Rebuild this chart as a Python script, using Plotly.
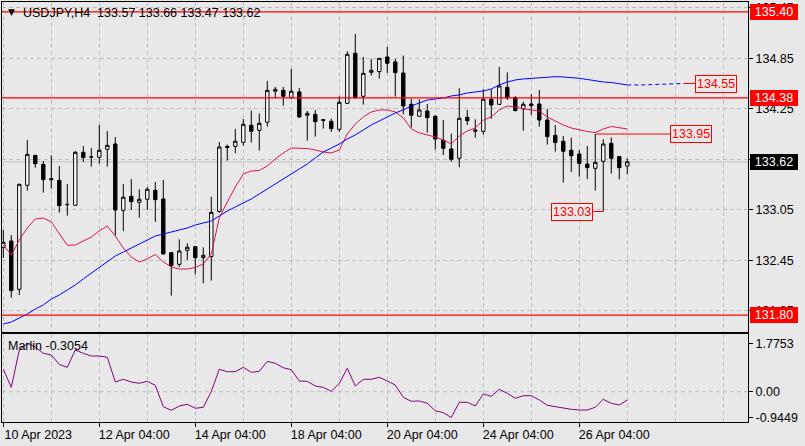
import plotly.graph_objects as go

# ---------------- data ----------------
symbol_title = "USDJPY,H4  133.57 133.66 133.47 133.62"
indicator_title = "Marlin -0.3054"

open_ = [132.605, 132.680, 132.106, 133.341, 133.697, 133.590, 133.420, 133.400, 133.115, 133.104,
         133.733, 133.680, 133.674, 133.769, 133.832, 133.044, 133.211, 133.139, 133.175, 133.282,
         133.179, 132.541, 132.403, 132.569, 132.613, 132.482, 132.494, 133.032, 133.804, 133.804,
         133.852, 134.054, 133.994, 134.090, 134.458, 134.469, 134.386, 134.450, 134.173, 134.184,
         134.121, 134.101, 134.006, 134.315, 134.909, 134.398, 134.683, 134.691, 134.865, 134.806,
         134.675, 134.303, 134.161, 134.224, 134.161, 133.876, 133.773, 133.662, 134.149, 133.998,
         133.982, 134.363, 134.303, 134.505, 134.382, 134.248, 134.307, 134.307, 134.117, 133.935,
         133.864, 133.757, 133.713, 133.594, 133.543, 133.626, 133.840, 133.682, 133.570]
high = [132.811, 132.750, 133.360, 133.880, 133.700, 133.630, 133.697, 133.571, 133.357, 133.749,
        133.808, 133.785, 134.058, 133.986, 133.915, 133.357, 133.416, 133.294, 133.321, 133.381,
        133.404, 132.550, 132.700, 132.652, 132.620, 132.605, 133.206, 133.856, 133.824, 134.010,
        134.129, 134.228, 134.196, 134.580, 134.509, 134.509, 134.723, 134.497, 134.224, 134.236,
        134.125, 134.133, 134.398, 134.933, 135.138, 134.865, 134.842, 134.850, 134.984, 134.842,
        134.881, 134.366, 134.362, 134.307, 134.173, 134.117, 133.955, 134.493, 134.236, 134.125,
        134.481, 134.481, 134.747, 134.683, 134.402, 134.335, 134.422, 134.473, 134.248, 134.058,
        133.927, 133.907, 133.761, 133.808, 133.950, 133.887, 133.911, 133.686, 133.660]
low = [132.482, 132.007, 132.039, 133.278, 133.551, 133.254, 133.302, 133.017, 132.981, 133.100,
       133.618, 133.563, 133.598, 133.563, 132.743, 132.799, 133.048, 132.957, 133.048, 132.906,
       132.520, 132.031, 132.371, 132.454, 132.284, 132.177, 132.209, 133.016, 133.634, 133.721,
       133.812, 133.848, 133.753, 134.038, 134.374, 134.287, 134.367, 134.141, 133.872, 133.919,
       134.014, 133.975, 133.975, 134.307, 134.370, 134.299, 134.644, 134.608, 134.675, 134.394,
       134.184, 134.026, 134.157, 133.967, 133.765, 133.701, 133.622, 133.555, 134.058, 133.907,
       133.943, 134.133, 134.295, 134.355, 134.220, 133.990, 134.176, 134.038, 133.824, 133.741,
       133.373, 133.500, 133.444, 133.416, 133.278, 133.030, 133.480, 133.412, 133.470]
close = [132.664, 132.090, 133.353, 133.709, 133.598, 133.408, 133.408, 133.100, 133.112, 133.733,
         133.670, 133.678, 133.757, 133.816, 133.048, 133.199, 133.147, 133.175, 133.294, 133.171,
         132.526, 132.387, 132.561, 132.605, 132.482, 132.510, 133.020, 133.796, 133.792, 133.864,
         134.066, 133.983, 134.077, 134.469, 134.481, 134.398, 134.458, 134.153, 134.196, 134.097,
         134.113, 134.014, 134.327, 134.897, 134.382, 134.671, 134.707, 134.849, 134.790, 134.679,
         134.283, 134.173, 134.236, 134.145, 133.891, 133.781, 133.650, 134.137, 134.109, 133.986,
         134.363, 134.295, 134.521, 134.382, 134.228, 134.303, 134.287, 134.117, 133.919, 133.848,
         133.745, 133.693, 133.602, 133.551, 133.614, 133.832, 133.662, 133.551, 133.620]

ma_red = [132.632, 132.514, 132.692, 132.834, 132.941, 132.953, 132.906, 132.767, 132.629, 132.632,
          132.680, 132.727, 132.799, 132.858, 132.739, 132.597, 132.490, 132.431, 132.466, 132.520,
          132.431, 132.371, 132.347, 132.347, 132.365, 132.407, 132.526, 132.953, 133.143, 133.321,
          133.476, 133.511, 133.517, 133.571, 133.654, 133.725, 133.784, 133.784, 133.778, 133.761,
          133.737, 133.725, 133.761, 133.951, 134.069, 134.152, 134.212, 134.236, 134.236, 134.212,
          134.141, 134.010, 133.963, 133.939, 133.915, 133.879, 133.832, 133.927, 133.986, 134.022,
          134.117, 134.152, 134.236, 134.283, 134.271, 134.248, 134.236, 134.224, 134.152, 134.105,
          134.058, 134.022, 133.998, 133.980, 133.968, 134.010, 134.040, 134.028, 134.010]
ma_blue = [131.694, 131.718, 131.765, 131.813, 131.872, 131.920, 131.991, 132.039, 132.098, 132.157,
           132.229, 132.300, 132.371, 132.442, 132.502, 132.549, 132.597, 132.644, 132.692, 132.739,
           132.763, 132.787, 132.811, 132.834, 132.870, 132.894, 132.917, 132.977, 133.036, 133.084,
           133.131, 133.179, 133.238, 133.297, 133.357, 133.416, 133.476, 133.535, 133.594, 133.666,
           133.737, 133.784, 133.832, 133.891, 133.939, 133.998, 134.058, 134.105, 134.152, 134.200,
           134.236, 134.283, 134.319, 134.354, 134.366, 134.378, 134.402, 134.414, 134.438, 134.449,
           134.461, 134.485, 134.533, 134.568, 134.592, 134.604, 134.610, 134.616, 134.628, 134.631,
           134.628, 134.622, 134.612, 134.598, 134.580, 134.568, 134.562, 134.544, 134.533]
blue_ext = [134.533, 134.530, 134.533, 134.537, 134.541, 134.545, 134.548, 134.550]

marlin = [0.822, 0.161, 1.530, 1.7753, 1.640, 1.409, 1.346, 0.998, 0.895, 1.530,
          1.409, 1.310, 1.310, 1.262, 0.356, 0.455, 0.356, 0.308, 0.382, 0.235,
          -0.550, -0.682, -0.525, -0.462, -0.609, -0.572, 0.010, 0.822, 0.734, 0.734,
          0.895, 0.712, 0.748, 1.115, 1.042, 0.880, 0.807, 0.393, 0.382, 0.209,
          0.161, 0.015, 0.308, 0.858, 0.209, 0.455, 0.455, 0.528, 0.393, 0.246,
          -0.205, -0.352, -0.341, -0.426, -0.697, -0.770, -0.9449, -0.389, -0.389, -0.525,
          -0.084, -0.169, 0.088, -0.059, -0.242, -0.147, -0.147, -0.304, -0.499, -0.550,
          -0.609, -0.646, -0.671, -0.671, -0.572, -0.279, -0.426, -0.488, -0.3054]

level_lines = [135.40, 134.38, 131.80]
resistance_level = 133.95
resistance_from_bar = 74
low_bar = 75
blue_label = 134.55

price_ticks = [135.45, 134.85, 134.25, 133.65, 133.05, 132.45, 131.85]
marlin_ticks = [1.7753, 0.0, -0.9449]
marlin_tick_text = ["1.7753", "0.00", "-0.9449"]
date_tick_bars = [0, 12, 24, 36, 48, 60, 72]
date_tick_text = ["10 Apr 2023", "12 Apr 04:00", "14 Apr 04:00", "18 Apr 04:00",
                  "20 Apr 04:00", "24 Apr 04:00", "26 Apr 04:00"]

# ---------------- figure ----------------
W, H = 805, 446
BG = "#E8E8E8"
GRID = "#BEBEBE"
GDASH = "4px,3px"
FONT = "Liberation Sans, Arial, sans-serif"
FS = 12.5

def px(xp):
    return xp / W

def py(yp):
    return 1 - yp / H

n = len(close)
bars = list(range(n))
ext_bars = list(range(n - 1, n - 1 + len(blue_ext)))
xr = [-0.1625, 93.09]
grid_bars = list(range(0, 91, 6))

fig = go.Figure()
fig.add_trace(go.Candlestick(
    x=bars, open=open_, high=high, low=low, close=close,
    increasing=dict(line=dict(color="black", width=1), fillcolor="white"),
    decreasing=dict(line=dict(color="black", width=1), fillcolor="black"),
    whiskerwidth=0, hoverinfo="skip", xaxis="x", yaxis="y"))
fig.add_trace(go.Scatter(x=bars, y=ma_red, mode="lines",
                         line=dict(color="#E0144A", width=1), hoverinfo="skip"))
fig.add_trace(go.Scatter(x=bars, y=ma_blue, mode="lines",
                         line=dict(color="#0000FF", width=1), hoverinfo="skip"))
fig.add_trace(go.Scatter(x=ext_bars, y=blue_ext, mode="lines",
                         line=dict(color="#0000FF", width=1, dash="4px,3px"), hoverinfo="skip"))
fig.add_trace(go.Scatter(x=bars, y=marlin, mode="lines",
                         line=dict(color="#800080", width=1), hoverinfo="skip",
                         xaxis="x2", yaxis="y2"))

axis_common = dict(showline=True, mirror=True, linecolor="black", linewidth=1, zeroline=False)

fig.update_layout(
    width=W, height=H, margin=dict(l=0, r=0, t=0, b=0, autoexpand=False),
    paper_bgcolor=BG, plot_bgcolor=BG, showlegend=False,
    font=dict(family=FONT, size=FS, color="black"),
    boxgap=0.4,
    xaxis=dict(domain=[px(2), px(748)], range=xr, anchor="y",
               tickmode="array", tickvals=grid_bars, showticklabels=False, ticks="",
               showgrid=True, gridcolor=GRID, griddash=GDASH, gridwidth=1,
               rangeslider=dict(visible=False), **axis_common),
    yaxis=dict(domain=[py(332), py(2)], range=[131.599, 135.518], anchor="x", side="right",
               tickmode="array", tickvals=price_ticks,
               ticktext=[f"{v:.2f}" for v in price_ticks],
               ticks="outside", ticklen=4, tickcolor="black",
               showgrid=True, gridcolor=GRID, griddash=GDASH, gridwidth=1,
               tickfont=dict(family=FONT, size=FS, color="black"), **axis_common),
    xaxis2=dict(domain=[px(2), px(748)], range=xr, anchor="y2", matches="x",
                tickmode="array", tickvals=date_tick_bars, ticktext=date_tick_text,
                ticks="outside", ticklen=4, tickcolor="black", ticklabelshift=35,
                ticklabelstandoff=-3,
                showgrid=True, gridcolor=GRID, griddash=GDASH, gridwidth=1,
                minor=dict(tickvals=[b for b in grid_bars if b not in date_tick_bars],
                           showgrid=True, gridcolor=GRID, griddash=GDASH, ticks=""),
                tickfont=dict(family=FONT, size=FS, color="black"), **axis_common),
    yaxis2=dict(domain=[py(421.7), py(334)], range=[-1.100, 2.117], anchor="x2", side="right",
                tickmode="array", tickvals=marlin_ticks, ticktext=marlin_tick_text,
                ticks="outside", ticklen=4, tickcolor="black", showgrid=False,
                tickfont=dict(family=FONT, size=FS, color="black"), **axis_common),
)

# bid line
fig.add_shape(type="line", xref="x domain", yref="y", x0=0, x1=1, y0=close[-1], y1=close[-1],
              line=dict(color="#C0C0C0", width=1), layer="below")
# zero line in indicator pane
fig.add_shape(type="line", xref="x2 domain", yref="y2", x0=0, x1=1, y0=0, y1=0,
              line=dict(color=GRID, width=1, dash=GDASH), layer="below")
# horizontal level lines
for lv in level_lines:
    fig.add_shape(type="line", xref="x domain", yref="y", x0=0, x1=1, y0=lv, y1=lv,
                  line=dict(color="#FF0000", width=1.2))
    fig.add_annotation(xref="paper", yref="y", x=px(750), y=lv, xanchor="left", yanchor="middle",
                       text=f"{lv:.2f}", showarrow=False, bgcolor="#FF0000",
                       font=dict(family=FONT, size=FS, color="white"),
                       width=44, height=12, borderpad=2, borderwidth=0)
# last price label
fig.add_annotation(xref="paper", yref="y", x=px(750), y=close[-1], xanchor="left", yanchor="middle",
                   text=f"{close[-1]:.2f}", showarrow=False, bgcolor="black",
                   font=dict(family=FONT, size=FS, color="white"),
                   width=44, height=12, borderpad=2, borderwidth=0)

# resistance callout 133.95
res_label_bar = 83.34
fig.add_shape(type="line", xref="x", yref="y", x0=resistance_from_bar, x1=res_label_bar,
              y0=resistance_level, y1=resistance_level, line=dict(color="#FF0000", width=1))
fig.add_annotation(xref="x", yref="y", x=res_label_bar, y=resistance_level, xanchor="left",
                   yanchor="middle", text=f"{resistance_level:.2f}", showarrow=False,
                   bgcolor=BG, bordercolor="#FF0000", borderwidth=1, borderpad=1,
                   font=dict(family=FONT, size=FS, color="#FF0000"))
# low callout 133.03
low_label_bar = 73.75
lv = low[low_bar]
fig.add_shape(type="line", xref="x", yref="y", x0=low_label_bar, x1=low_bar, y0=lv, y1=lv,
              line=dict(color="#FF0000", width=1))
fig.add_annotation(xref="x", yref="y", x=low_label_bar, y=lv, xanchor="right",
                   yanchor="middle", text=f"{lv:.2f}", showarrow=False,
                   bgcolor=BG, bordercolor="#FF0000", borderwidth=1, borderpad=1,
                   font=dict(family=FONT, size=FS, color="#FF0000"))
# blue MA callout 134.55
blue_label_bar = 86.46
fig.add_shape(type="line", xref="x", yref="y", x0=ext_bars[-1], x1=blue_label_bar,
              y0=blue_ext[-1], y1=blue_ext[-1], line=dict(color="#FF0000", width=1))
fig.add_annotation(xref="x", yref="y", x=blue_label_bar, y=blue_ext[-1], xanchor="left",
                   yanchor="middle", text=f"{blue_label:.2f}", showarrow=False,
                   bgcolor=BG, bordercolor="#FF0000", borderwidth=1, borderpad=1,
                   font=dict(family=FONT, size=FS, color="#FF0000"))

# titles
fig.add_annotation(xref="paper", yref="paper", x=px(11), y=py(12), xanchor="center", yanchor="middle",
                   text="▼", showarrow=False, font=dict(family="DejaVu Sans", size=9, color="black"))
fig.add_annotation(xref="paper", yref="paper", x=px(21), y=py(13), xanchor="left", yanchor="middle",
                   text=symbol_title.replace("  ", "&nbsp; "), showarrow=False,
                   font=dict(family=FONT, size=FS, color="black"))
fig.add_annotation(xref="paper", yref="paper", x=px(6), y=py(346), xanchor="left", yanchor="middle",
                   text=indicator_title, showarrow=False,
                   font=dict(family=FONT, size=FS, color="black"))

fig.write_html("out.html", config={"displayModeBar": False},
               post_script="document.body.style.margin='0';document.body.style.overflow='hidden';")
